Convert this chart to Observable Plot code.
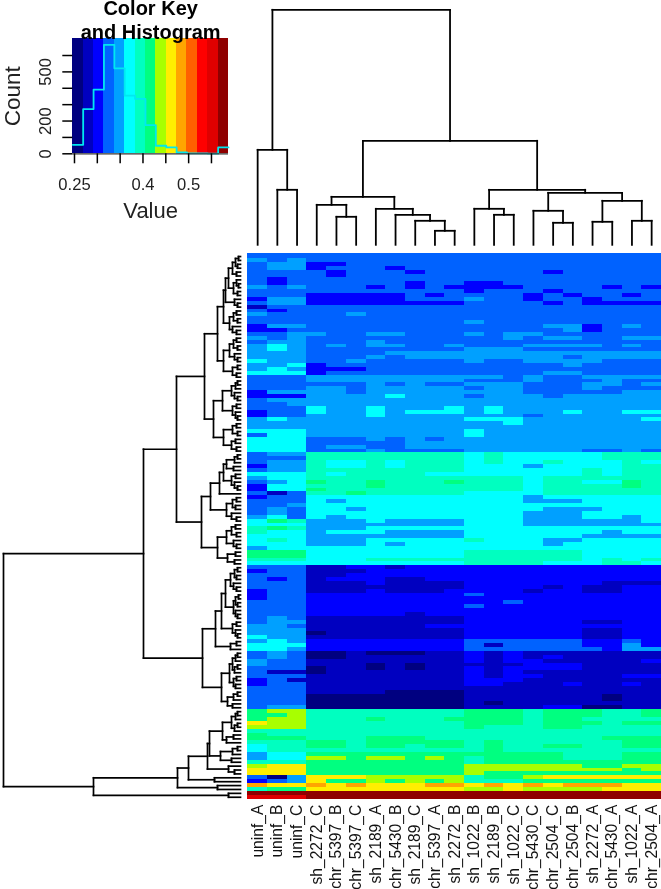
<!DOCTYPE html>
<html>
<head>
<meta charset="utf-8">
<script src="https://cdn.jsdelivr.net/npm/d3@7"></script>
<script src="https://cdn.jsdelivr.net/npm/@observablehq/plot@0.6"></script>
<style>
html,body{margin:0;padding:0;background:#fff}
#page{position:relative;width:661px;height:889px;overflow:hidden;filter:blur(0.35px)}
#page svg{position:absolute;left:0;top:0}
</style>
</head>
<body>
<div id="page"></div>
<script>
const PAGE_W = 661, PAGE_H = 889;
const FONT = "Liberation Sans, Arial, Helvetica, sans-serif";

// colour key bins
const binKeys = "0123456789abcde".split("");
const binColors = ["#000080","#0000c0","#0000ff","#0062ff","#00a0ff","#00ffff","#00ffc0","#00ff80","#a8ff00","#ffee00","#ffa500","#ff6000","#ff0000","#e00000","#8f0000"];
const binEdges = [0.2463,0.2690,0.2918,0.3145,0.3373,0.3600,0.3827,0.4055,0.4282,0.4510,0.4737,0.4964,0.5192,0.5419,0.5646,0.5873];
const histCounts = [55,273,392,665,522,355,335,175,49,39,8,3,2,1,39];
const keyXTicks = [0.25,0.3,0.35,0.4,0.45,0.5,0.55];
const keyXLabels = {0.25:"0.25",0.4:"0.4",0.5:"0.5"};
const keyYTicks = [0,100,200,300,400,500,600];
const keyYLabels = {0:"0",200:"200",500:"500"};

// columns of the heat map, in dendrogram order
const colLabels = ["uninf_A","uninf_B","uninf_C","sh_2272_C","chr_5397_B","chr_5397_C","sh_2189_A","chr_5430_B","sh_2189_C","chr_5397_A","sh_2272_B","sh_1022_B","sh_2189_B","sh_1022_C","chr_5430_C","chr_2504_C","chr_2504_B","sh_2272_A","chr_5430_A","sh_1022_A","chr_2504_A"];

// heat map rows: one colour-key bin per column (groups: uninf | left block | right block)
const heatRows = [
"333|33333333|3333333333","434|33333333|3333333333","344|22333333|3333333333","344|23332333|3333333333",
"333|32333233|3333233333","333|32333333|3333333333","323|33333333|3333333333","323|33333233|2233333333",
"434|33323232|2223333232","333|33333333|2333233333","333|22222323|3332323323","244|22222333|4332332333",
"344|22222222|3333232222","133|33333333|3333333333","323|33333333|3333333333","433|33433333|3333333333",
"333|33333333|3333333333","333|33333333|4333333333","244|33333333|3333442343","223|33333333|3333342333",
"334|43344333|4344333333","434|33333333|3343443344","344|33343333|3333333333","454|34344334|3334444343",
"454|33333333|4443333333","444|33334444|4444444444","444|33343444|4444434444","544|33433333|4334444333",
"445|23333333|3333343333","454|22233333|3333333333","555|23333333|3333443333","333|44444444|4434334444",
"333|44444444|3334333433","333|33343433|4443334434","333|44344444|3443334333","244|44344444|4443333344",
"222|44445444|3444344444","344|44444444|4444444444","334|44444444|4444444444","333|54454445|4544444444",
"233|54454555|4544454455","233|44454444|4443444444","454|44444444|5554444445","444|44444444|4454444444",
"444|44444444|4444444444","555|44444444|5444444444","355|44444444|5444444444","555|33343434|4444444444",
"555|33333444|4444444444","555|34433444|4444444444","555|33343333|4444443343",
"344|66666666|5655555666","333|66666666|5655555666","344|65565666|5655655565","244|65565666|5554555566",
"344|66666666|5555556566","555|65666655|5555556566","455|66666666|6665666666","345|76676667|6665665576",
"255|66676666|6665666676","255|76666666|6665666666","313|66766666|5555666666","233|55555555|5554555555",
"333|54555555|5554445555","334|55555555|5555555555","343|55455555|5555444555","343|55555555|5554445555",
"453|54555555|5554445545","576|44454444|5554444445","555|44444444|5554444444","676|44455555|5555555555",
"655|45554444|5555555455","555|44444444|5555554444","565|44455555|6555445555","555|44454555|5555455555",
"455|55555555|5555555555","777|55555555|6666665555","777|55555555|6666665555","666|55566666|6666665656",
"555|55555555|6666555665",
"333|11221222|2222222222","233|11122222|2222222222","333|11222222|2222222222","323|12221122|2222222222",
"333|11121111|2222222111","333|11111111|2222121122","233|11121112|2221221122","233|22222222|3222222222",
"233|22222222|2222222222","333|22222222|2232222222","333|22222222|3222222222","333|22222222|2222222222",
"333|22222122|2222222222","343|11111111|2222222222","344|11111111|2222221122","443|11111122|2222222222",
"444|11111111|2222221122","444|01111111|2222221122","544|11111111|2222221122","454|22222222|3333332232",
"555|22222222|3133332242","554|22222222|3333333244","343|00100011|2121111111","343|00111111|2121211111",
"433|11111111|2122111112","433|11101011|1112221111","333|01101011|2122221111","311|01111111|2121111111",
"333|11111111|2122111122","231|11111111|2221111111","233|11111111|2211121121","333|11111111|1111111111",
"333|11110000|1111111111","333|00000000|1111111011","333|00000000|1111111011","333|00000000|1011111111",
"344|00000000|1111220011",
"788|66666666|7776777667","778|66666666|7776777667","788|66676667|7776776666","988|66666666|7776777677",
"888|66666666|7666776666","666|66666666|6666666666","766|66666666|6666666666","777|66677766|6666666777",
"666|77677777|6766666677","566|77677677|6766776677","566|66666666|6766666666","455|77777777|7777766677",
"455|88788787|6777766677","666|77777777|6777777777","899|77777777|8888887788","999|77777777|8888888878",
"999|77777777|8777777777","304|99988888|6778999999","234|97787878|6667777777","a99|a9a999aa|9a9a9aaa99",
"677|99999999|8898888999","eee|eeeeeeee|eeeeeeeeee","ddd|eeeeeeee|eeeeeeeeee"
];

// column dendrogram: [height, left, right]; a number is a column
const colTree = [235,
  [95,0,[55,1,2]],
  [104,
    [48,[40,3,[28,4,5]],[36,6,[30,7,[24,8,[14,9,10]]]]],
    [55,[36,11,[30,12,13]],[52,[34,14,[22,15,16]],[44,[23,17,18],[24,19,20]]]]
  ]
];

// row dendrogram pieces: [distance, upper, lower]; a number is a row
const rowsA0 = [8,[5,[2,0,1],[3,2,3]],[4,4,5]];
const rowsA1 = [7,[4,6,[2,7,8]],[3,9,10]];
const rowsA2 = [6,11,[3,12,13]];
const rowsA3 = [11,[7,[4,14,15],[3,16,17]],[8,18,[4,19,20]]];
const rowsA4 = [11,[7,[4,21,22],[3,23,24]],[6,25,[3,26,27]]];
const rowsA5 = [8,[3,28,29],[4,30,31]];
const rowsA6 = [9,[5,[3,32,33],34],[6,35,[3,36,37]]];
const rowsA7 = [8,[4,38,39],[5,40,[3,41,42]]];
const rowsA8 = [8,[4,43,44],[3,45,46]];
const rowsA9 = [9,[5,47,48],[4,49,50]];
const clusterTop = [36,
  [23,[17,[15,[12,rowsA0,rowsA1],rowsA2],rowsA3],[17,rowsA4,rowsA5]],
  [27,[18,rowsA6,rowsA7],[17,rowsA8,rowsA9]]
];
const rowsB0 = [17,[14,[6,[3,51,52],53],[7,54,55]],[9,[5,56,57],[6,58,[3,59,60]]]];
const rowsB1 = [14,[8,[4,62,63],[5,64,65]],[9,66,[4,67,68]]];
const rowsB2 = [14,[9,[5,69,70],[4,71,72]],[7,73,[4,74,75]]];
const rowsB3 = [13,[5,76,77],[6,78,79]];
const clusterCyan = [39,[30,[21,rowsB0,61],rowsB1],[23,rowsB2,rowsB3]];
const rowsC0 = [10,[6,[3,80,81],[4,82,83]],[7,84,[4,85,86]]];
const rowsC1 = [7,[5,[2,87,88],[3,89,90]],[5,91,[3,92,93]]];
const rowsC2 = [8,[4,94,95],[5,96,[3,97,98]]];
const rowsC3 = [10,[4,99,100],101];
const rowsC4 = [11,[8,[5,[3,102,103],104],[6,[3,105,106],107]],[7,[4,108,109],[5,110,111]]];
const rowsC5 = [13,[7,[3,112,113],114],[8,115,116]];
const clusterDark = [38,[25,[19,[15,rowsC0,rowsC1],rowsC2],rowsC3],[19,rowsC4,rowsC5]];
const rowsD0 = [18,[9,[5,[3,117,118],119],[6,[3,120,121],122]],[14,[7,123,124],125]];
const rowsD1 = [20,[8,[3,126,127],128],[9,129,130]];
const clusterHigh = [147,[63,[52,[33,[31,rowsD0,rowsD1],[12,131,[6,132,133]]],[26,134,135]],[23,136,137]],[12,138,139]];
const rowTree = [237,[97,[64,clusterTop,clusterCyan],clusterDark],clusterHigh];

// flatten a dendrogram into segments
function segments(tree){
  const out=[];
  (function walk(n){
    if(typeof n==="number") return {pos:n+.5,h:0};
    const [h,a,b]=n, A=walk(a), B=walk(b);
    out.push({p1:A.pos,h1:h,p2:B.pos,h2:h},{p1:A.pos,h1:A.h,p2:A.pos,h2:h},{p1:B.pos,h1:B.h,p2:B.pos,h2:h});
    return {pos:(A.pos+B.pos)/2,h};
  })(tree);
  return out;
}

const cells = heatRows.flatMap((s,r)=>s.replace(/\|/g,"").split("").map((bin,c)=>({r,c,bin})));
const HEAT = {marginTop:252.7,marginBottom:90.3,marginLeft:247.3,marginRight:0};
const SLIVER = -0.36; // the first row reaches a little above the regular grid
const rowDomain = [140,SLIVER];
const base = {width:PAGE_W,height:PAGE_H,style:{background:"transparent",overflow:"visible",fontFamily:FONT,maxWidth:"none"}};
const page = document.getElementById("page");

// heat map
page.append(Plot.plot({...base,...HEAT,
  x:{domain:[0,colLabels.length],axis:null},
  y:{domain:rowDomain,axis:null},
  color:{type:"ordinal",domain:binKeys,range:binColors},
  marks:[
    Plot.rect(cells,{x1:"c",x2:d=>d.c+1,y1:d=>d.r===0?SLIVER:d.r,y2:d=>d.r+1,fill:"bin",shapeRendering:"crispEdges"}),
    Plot.axisX(colLabels.map((_,i)=>i+.5),{anchor:"bottom",tickSize:0,tickPadding:5.5,tickRotate:-90,fontSize:15.6,label:null,
      tickFormat:v=>colLabels[v-.5],fill:"#111"})
  ]}));

// column dendrogram
page.append(Plot.plot({...base,marginLeft:HEAT.marginLeft,marginRight:0,marginTop:8.7,marginBottom:PAGE_H-244.3,
  x:{domain:[0,colLabels.length],axis:null},
  y:{domain:[0,235.6],axis:null},
  marks:[Plot.link(segments(colTree),{x1:"p1",x2:"p2",y1:"h1",y2:"h2",stroke:"#000",strokeWidth:1.8,strokeLinecap:"square"})]}));

// row dendrogram
page.append(Plot.plot({...base,marginLeft:0,marginRight:PAGE_W-240,marginTop:HEAT.marginTop,marginBottom:HEAT.marginBottom,
  x:{domain:[240,0],axis:null},
  y:{domain:rowDomain,axis:null},
  marks:[Plot.link(segments(rowTree),{x1:"h1",x2:"h2",y1:"p1",y2:"p2",stroke:"#000",strokeWidth:1.7,strokeLinecap:"square"})]}));

// colour key and histogram
const bands = binKeys.map((k,i)=>({k,x1:binEdges[i],x2:binEdges[i+1]}));
const histLine = histCounts.map((n,i)=>({x:binEdges[i],n})).concat([{x:binEdges[15],n:histCounts[14]}]);
page.append(Plot.plot({...base,marginLeft:72.3,marginRight:PAGE_W-228,marginTop:38.3,marginBottom:PAGE_H-153.3,
  x:{domain:[binEdges[0],binEdges[15]],axis:null},
  y:{domain:[0,702],axis:null},
  color:{type:"ordinal",domain:binKeys,range:binColors},
  marks:[
    Plot.rect(bands,{x1:"x1",x2:"x2",y1:0,y2:702,fill:"k",shapeRendering:"crispEdges"}),
    Plot.line(histLine,{x:"x",y:"n",curve:"step-after",stroke:"#00e8f0",strokeWidth:1.8}),
    Plot.ruleY([0],{stroke:"#333",strokeWidth:1.2}),
    Plot.axisX(keyXTicks,{anchor:"bottom",tickSize:10,tickPadding:14,fontSize:16.6,strokeWidth:1.5,label:null,fill:"#222",
      tickFormat:v=>keyXLabels[v]||""}),
    Plot.axisY(keyYTicks,{anchor:"left",tickSize:10,tickPadding:12,fontSize:16.6,strokeWidth:1.5,label:null,fill:"#222",tickRotate:-90,
      tickFormat:v=>keyYLabels[v]||""}),
    Plot.text(["Color Key\nand Histogram"],{frameAnchor:"top",lineAnchor:"bottom",dy:0,fontSize:20,fontWeight:"bold",lineHeight:1.18,fill:"#000"}),
    Plot.text(["Count"],{frameAnchor:"left",textAnchor:"middle",rotate:-90,dx:-60,fontSize:22.5,fill:"#222"}),
    Plot.text(["Value"],{frameAnchor:"bottom",lineAnchor:"middle",dy:57,fontSize:22,fill:"#222"})
  ]}));
</script>
</body>
</html>
